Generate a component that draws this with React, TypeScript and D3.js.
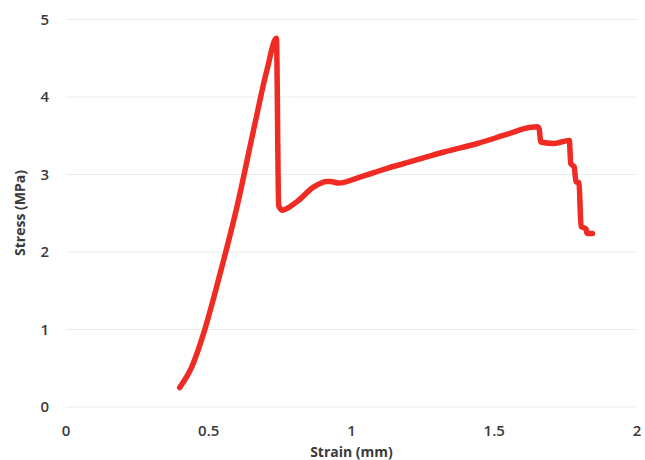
import React, { useEffect, useRef } from 'react';
import * as d3 from 'd3';

const strain = [
  0.398, 0.441, 0.482, 0.54, 0.599, 0.657, 0.704, 0.737,
  0.745, 0.757, 0.809, 0.868, 0.915, 0.926, 0.955, 1.032, 1.125, 1.207, 1.324, 1.441,
  1.546, 1.628, 1.652, 1.657, 1.663, 1.71, 1.763, 1.768, 1.78, 1.786, 1.797, 1.804,
  1.821, 1.825, 1.844,
];
const stress = [
  0.25, 0.52, 0.95, 1.725, 2.585, 3.574, 4.35, 4.757,
  2.6, 2.54, 2.65, 2.84, 2.91, 2.91, 2.89, 2.97, 3.08, 3.165, 3.29, 3.4,
  3.52, 3.61, 3.615, 3.595, 3.42, 3.4, 3.44, 3.14, 3.1, 2.91, 2.89, 2.33,
  2.3, 2.24, 2.24,
];
const xTicks = [0, 0.5, 1, 1.5, 2];
const yTicks = [0, 1, 2, 3, 4, 5];

const W = 645;
const H = 460;

export default function App() {
  const svgRef = useRef<SVGSVGElement>(null);

  useEffect(() => {
    document.body.style.margin = '0';
    if (!svgRef.current) return;
    const svg = d3.select(svgRef.current);
    svg.selectAll('*').remove();

    const x = d3.scaleLinear().domain([0, 2]).range([66, 637]);
    const y = d3.scaleLinear().domain([0, 5]).range([407, 19.5]);
    const font = '"Open Sans", "Noto Sans", sans-serif';

    // grid
    svg.append('g')
      .selectAll('line')
      .data(yTicks)
      .enter()
      .append('line')
      .attr('x1', x(0))
      .attr('x2', x(2))
      .attr('y1', d => y(d))
      .attr('y2', d => y(d))
      .attr('stroke', '#ececec')
      .attr('stroke-width', 1);

    // y tick labels
    svg.append('g')
      .selectAll('text')
      .data(yTicks)
      .enter()
      .append('text')
      .attr('x', 49)
      .attr('y', d => y(d))
      .attr('dy', '0.35em')
      .attr('text-anchor', 'end')
      .attr('font-family', font)
      .attr('font-size', 15)
      .attr('font-weight', 600)
      .attr('fill', '#3a3a3a')
      .text(d => String(d));

    // x tick labels
    svg.append('g')
      .selectAll('text')
      .data(xTicks)
      .enter()
      .append('text')
      .attr('x', d => x(d))
      .attr('y', 431)
      .attr('dy', '0.35em')
      .attr('text-anchor', 'middle')
      .attr('font-family', font)
      .attr('font-size', 15)
      .attr('font-weight', 600)
      .attr('fill', '#3a3a3a')
      .text(d => String(d));

    // axis titles
    svg.append('text')
      .attr('x', x(1))
      .attr('y', 452)
      .attr('dy', '0.35em')
      .attr('text-anchor', 'middle')
      .attr('font-family', font)
      .attr('font-size', 14)
      .attr('font-weight', 700)
      .attr('fill', '#3a3a3a')
      .text('Strain (mm)');

    svg.append('text')
      .attr('transform', `translate(20,${213}) rotate(-90)`)
      .attr('dy', '0.35em')
      .attr('text-anchor', 'middle')
      .attr('font-family', font)
      .attr('font-size', 14)
      .attr('font-weight', 700)
      .attr('fill', '#3a3a3a')
      .text('Stress (MPa)');

    // curve
    const pts = strain.map((s, i) => [s, stress[i]] as [number, number]);
    const line = d3.line<[number, number]>()
      .x(d => x(d[0]))
      .y(d => y(d[1]))
      .curve(d3.curveMonotoneX);

    svg.append('path')
      .datum(pts)
      .attr('d', line)
      .attr('fill', 'none')
      .attr('stroke', '#ef2b24')
      .attr('stroke-width', 5.5)
      .attr('stroke-linejoin', 'round')
      .attr('stroke-linecap', 'round');
  }, []);

  return <svg ref={svgRef} width={W} height={H} style={{ display: 'block', background: '#fff' }} />;
}
